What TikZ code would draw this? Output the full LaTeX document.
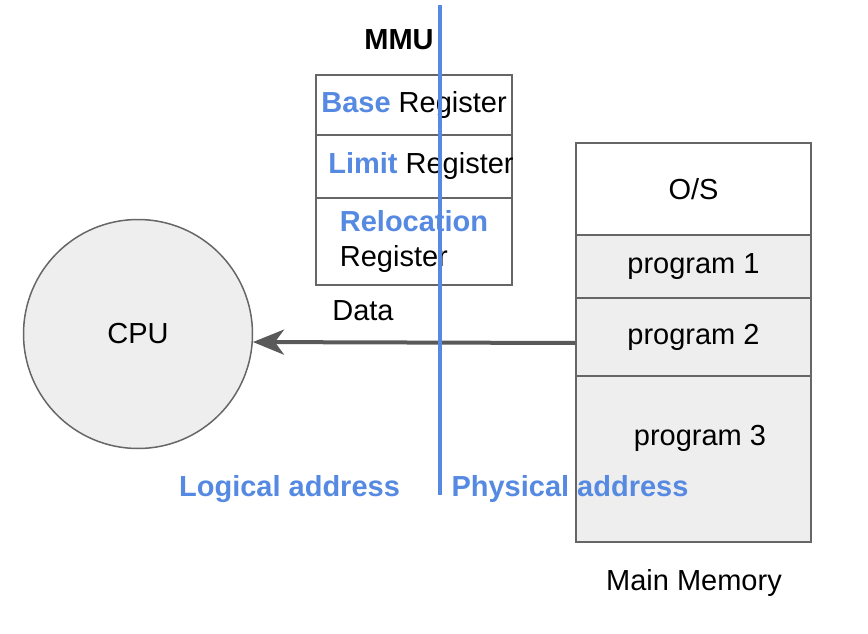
\documentclass[tikz,border=0pt]{standalone}
\usepackage{fontspec}
\setmainfont{Liberation Sans}
\usetikzlibrary{arrows.meta}
\definecolor{addrblue}{RGB}{86,138,226}
\definecolor{edgegray}{RGB}{102,102,102}
\definecolor{cellgray}{RGB}{238,238,238}
\definecolor{arrowgray}{RGB}{89,89,89}

\begin{document}
\begin{tikzpicture}[x=1pt,y=-1pt,
    every node/.style={font=\fontsize{29}{35}\selectfont, inner sep=0pt},
    cell/.style={draw=edgegray, line width=1.5pt, fill=cellgray, minimum width=235pt},
    reg/.style={draw=edgegray, line width=1.5pt, fill=white, minimum width=196pt},
    addr/.style={text=addrblue, font=\fontsize{29}{35}\selectfont\bfseries}]
    \useasboundingbox (0,0) rectangle (868,634);

    \node[circle, draw=edgegray, line width=1.5pt, fill=cellgray, minimum size=229pt] (cpu) at (138,334) {CPU};

    \node[font=\fontsize{29}{35}\selectfont\bfseries] (mmu) at (399,40) {MMU};
    \node[reg, minimum height=60pt] (base) at (414,105) {{\color{addrblue}\bfseries Base} Register};
    \node[reg, minimum height=63pt] (limit) at (414,166.5) {};
    \node (limittxt) at (421,166) {{\color{addrblue}\bfseries Limit} Register};
    \node[reg, minimum height=87pt, align=left] (reloc) at (414,241.5) {{\color{addrblue}\bfseries Relocation}\\Register};

    \node[cell, fill=white, minimum height=92pt] (os) at (693.5,189) {O/S};
    \node[cell, minimum height=63pt] (prog1) at (693.5,266.5) {program 1};
    \node[cell, minimum height=78pt] (prog2) at (693.5,337) {program 2};
    \node[cell, minimum height=166pt] (prog3) at (693.5,459) {};
    \node (prog3txt) at (700,438) {program 3};
    \node (mainmem) at (694,583) {Main Memory};

    \draw[arrowgray, line width=4pt, -{Stealth[length=31pt, width=25pt, inset=9pt]}]
        (prog2.west |- 0,343) -- (cpu.-4.5);
    \node (data) at (363,311) {Data};

    \draw[addrblue, line width=4pt] (440,5) -- (440,495);
    \node[addr] (logical) at (289.5,489) {Logical address};
    \node[addr] (physical) at (570,489) {Physical address};
\end{tikzpicture}
\end{document}
